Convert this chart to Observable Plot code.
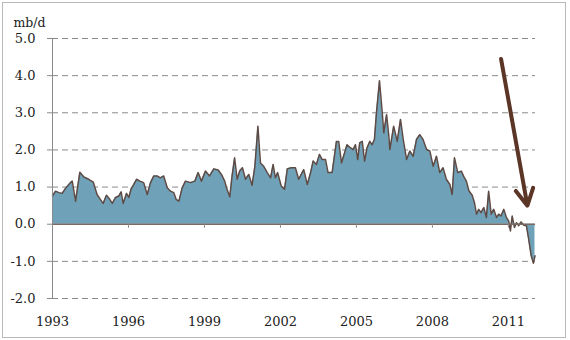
<!DOCTYPE html>
<html><head><meta charset="utf-8">
<script src="https://cdn.jsdelivr.net/npm/d3@7"></script>
<script src="https://cdn.jsdelivr.net/npm/@observablehq/plot@0.6"></script>
<style>
body{margin:0;background:#fff;}
#wrap{position:relative;width:570px;height:340px;}
#border{position:absolute;left:2px;top:2px;width:564px;height:336px;border:1px solid #b8b8b8;box-sizing:border-box;}
#wrap svg{display:block;position:absolute;left:0;top:0;}
</style></head><body><div id="wrap"><div id="border"></div></div>
<script>
const years = [
1993.00,1993.12,1993.25,1993.38,1993.51,1993.71,1993.78,1993.91,1994.08,1994.24,1994.43,1994.61,1994.76,1994.89,
1995.00,1995.13,1995.26,1995.36,1995.49,1995.62,1995.71,1995.79,1995.92,1996.01,1996.11,1996.21,1996.32,1996.45,
1996.60,1996.74,1996.87,1997.00,1997.13,1997.26,1997.39,1997.53,1997.66,1997.79,1997.88,1997.99,1998.12,1998.25,
1998.45,1998.62,1998.75,1998.88,1999.04,1999.20,1999.37,1999.54,1999.67,1999.80,1999.87,2000.00,2000.09,2000.19,
2000.29,2000.39,2000.50,2000.62,2000.75,2000.88,2000.99,2001.11,2001.21,2001.34,2001.48,2001.61,2001.71,2001.80,
2001.89,2002.03,2002.16,2002.27,2002.42,2002.59,2002.72,2002.92,2003.06,2003.19,2003.29,2003.42,2003.54,2003.65,
2003.78,2003.88,2004.04,2004.21,2004.30,2004.41,2004.53,2004.63,2004.76,2004.87,2004.96,2005.05,2005.13,2005.23,
2005.32,2005.42,2005.53,2005.62,2005.71,2005.79,2005.91,2006.02,2006.08,2006.19,2006.28,2006.32,2006.47,2006.61,
2006.74,2006.84,2006.98,2007.11,2007.24,2007.37,2007.50,2007.63,2007.77,2007.90,2008.03,2008.16,2008.29,2008.42,
2008.55,2008.69,2008.78,2008.87,2009.00,2009.14,2009.24,2009.34,2009.44,2009.57,2009.66,2009.74,2009.83,2009.92,
2010.03,2010.13,2010.22,2010.32,2010.42,2010.53,2010.62,2010.71,2010.82,2010.92,2011.01,2011.08,2011.15,2011.24,
2011.32,2011.41,2011.50,2011.61,2011.71,2011.80,2011.90,2011.99,2012.05
];
const values = [
0.76,0.89,0.85,0.83,0.96,1.12,1.16,0.62,1.40,1.27,1.21,1.13,0.80,0.67,
0.56,0.78,0.67,0.56,0.72,0.76,0.87,0.56,0.83,0.72,0.96,1.07,1.21,1.16,
1.12,0.80,1.12,1.30,1.30,1.25,1.30,0.98,0.89,0.85,0.67,0.62,0.98,1.16,
1.12,1.16,1.39,1.16,1.43,1.30,1.49,1.46,1.34,1.16,0.98,0.74,1.30,1.79,
1.21,1.43,1.52,1.21,1.34,1.05,1.56,2.64,1.65,1.56,1.39,1.25,1.61,1.25,
1.39,1.03,0.94,1.49,1.52,1.52,1.21,1.47,1.07,1.39,1.70,1.61,1.88,1.74,
1.74,1.39,1.39,2.23,2.23,1.65,1.92,2.14,2.06,2.01,2.14,1.74,2.19,2.23,
1.70,2.06,2.23,2.14,2.28,3.00,3.86,3.00,2.46,2.95,2.37,2.01,2.64,2.23,
2.82,2.32,1.74,1.97,1.83,2.28,2.41,2.28,2.01,1.97,1.56,1.83,1.39,1.52,
1.21,1.07,0.80,1.79,1.39,1.43,1.28,1.16,0.90,0.78,0.58,0.27,0.40,0.31,
0.45,0.18,0.89,0.27,0.40,0.18,0.27,0.22,0.40,0.18,0.09,-0.18,0.22,-0.09,
0.04,-0.04,0.06,-0.03,-0.04,-0.40,-0.85,-1.05,-0.85
];
const xTicks = [1993, 1996, 1999, 2002, 2005, 2008, 2011];
const yTicks = [-2, -1, 0, 1, 2, 3, 4, 5];
const gridValues = [-2, -1, 1, 2, 3, 4, 5];
const unitLabel = ["mb/d"];
const arrowStart = [2010.71, 4.45];
const arrowEnd = [2011.75, 0.50];

const data = years.map((t, i) => ({t, v: values[i]}));
const arrowData = [{x1: arrowStart[0], y1: arrowStart[1], x2: arrowEnd[0], y2: arrowEnd[1]}];
const font = "'DejaVu Serif', serif";

const chart = Plot.plot({
  width: 570, height: 340,
  marginLeft: 52, marginRight: 35, marginTop: 38, marginBottom: 42,
  style: {fontFamily: font, fontSize: "13px", color: "#222", background: "transparent", overflow: "visible"},
  x: {domain: [1993, 2012.07]},
  y: {domain: [-2, 5]},
  marks: [
    Plot.ruleY(gridValues, {stroke: "#8a8a8a", strokeDasharray: "6,4", strokeWidth: 1}),
    Plot.areaY(data, {x: "t", y: "v", fill: "#6fa2b8"}),
    Plot.lineY(data, {x: "t", y: "v", stroke: "#5e4b45", strokeWidth: 1.5}),
    Plot.ruleY([0], {stroke: "#7a6a62", strokeWidth: 1.5}),
    Plot.ruleX(xTicks, {x: d => d, y1: 0, y2: -0.11, stroke: "#8a8a8a"}),
    Plot.frame({anchor: "left", stroke: "#8a8a8a"}),
    Plot.axisY(yTicks, {tickSize: 5, tickPadding: 12, tickFormat: d => d.toFixed(1), stroke: "#8a8a8a", fill: "#222", label: null}),
    Plot.axisX(xTicks, {tickSize: 0, tickPadding: 18, tickFormat: "d", fill: "#222", label: null}),
    Plot.text(unitLabel, {frameAnchor: "top-left", text: d => d, dx: -39, dy: -20, textAnchor: "start", fill: "#222", fontSize: 12.5}),
    Plot.arrow(arrowData, {x1: "x1", y1: "y1", x2: "x2", y2: "y2", stroke: "#5b3526", strokeWidth: 4, headLength: 7, headAngle: 56, bend: 0})
  ]
});
document.getElementById("wrap").appendChild(chart);
</script>
</body></html>
